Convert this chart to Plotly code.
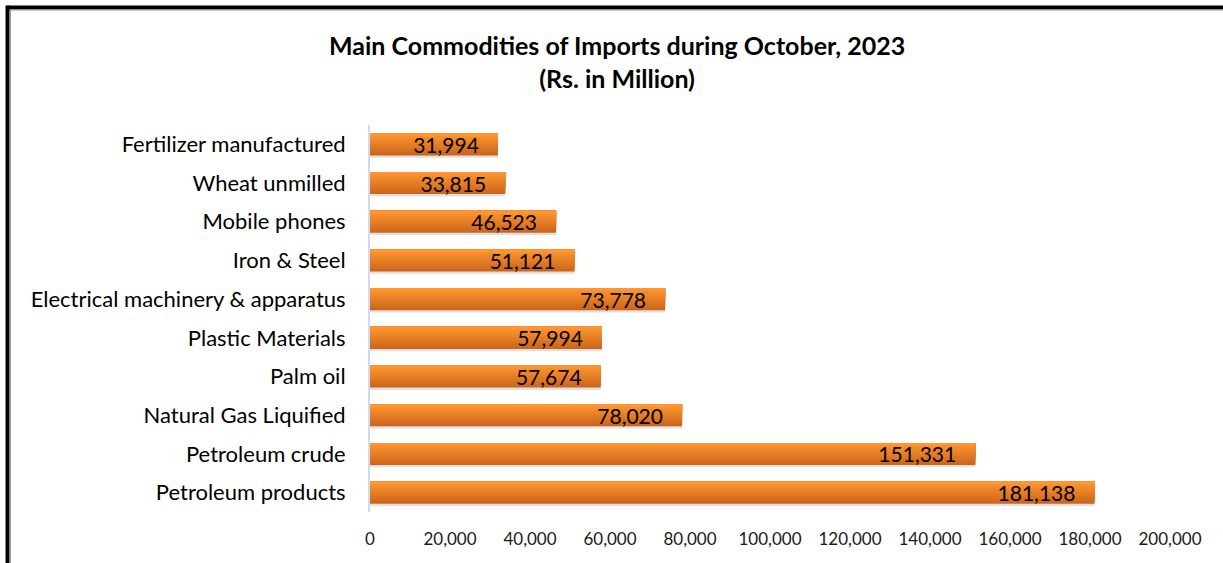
import plotly.graph_objects as go

categories = ["Petroleum products", "Petroleum crude", "Natural Gas Liquified", "Palm oil",
              "Plastic Materials", "Electrical machinery & apparatus", "Iron & Steel",
              "Mobile phones", "Wheat unmilled", "Fertilizer manufactured"]
values = [181138, 151331, 78020, 57674, 57994, 73778, 51121, 46523, 33815, 31994]
labels = [f"{v:,}" + "\u00a0\u00a0\u00a0" for v in values]
x_ticks = list(range(0, 200001, 20000))
x_ticktext = [f"{v:,}" for v in x_ticks]

FONT = "Lato, 'Open Sans', sans-serif"
BAR_W = 0.57

fig = go.Figure()

# soft shadow under bars
fig.add_trace(go.Bar(y=categories, x=values, orientation="h", width=BAR_W,
                     offset=-BAR_W / 2 - 0.06, marker=dict(color="rgba(0,0,0,0.12)", line_width=0),
                     hoverinfo="skip", showlegend=False))

# stepped vertical gradient: dark bottom -> light top
steps = 12
c_dark = (204, 102, 28)
c_light = (255, 150, 48)
for i in range(steps):
    t = i / (steps - 1)
    w = BAR_W * (1 - i / steps)
    col = tuple(int(round(c_dark[k] + (c_light[k] - c_dark[k]) * t)) for k in range(3))
    fig.add_trace(go.Bar(y=categories, x=values, orientation="h", width=w,
                         offset=BAR_W / 2 - w,
                         marker=dict(color="rgb(%d,%d,%d)" % col, line_width=0),
                         hoverinfo="skip", showlegend=False))

# labels
fig.add_trace(go.Bar(y=categories, x=values, orientation="h", width=BAR_W,
                     marker=dict(color="rgba(0,0,0,0)", line_width=0),
                     text=labels, textposition="inside", insidetextanchor="end",
                     constraintext="none",
                     textfont=dict(family=FONT, size=21, color="black"),
                     cliponaxis=False, hoverinfo="skip", showlegend=False))

fig.update_layout(
    width=1223, height=563,
    barmode="overlay",
    paper_bgcolor="white", plot_bgcolor="white",
    margin=dict(l=370, r=53, t=125, b=51),
    font=dict(family=FONT, color="black"),
    annotations=[dict(text="<b>Main Commodities of Imports during October, 2023<br>(Rs. in Million)</b>",
                      xref="paper", yref="paper", x=(617 - 370) / 800, y=(512 - 61) / 387,
                      xanchor="center", yanchor="middle", showarrow=False, align="center",
                      font=dict(family=FONT, size=25, color="black"))],
    xaxis=dict(range=[0, 200000], tickvals=x_ticks, ticktext=x_ticktext,
               showgrid=False, zeroline=False, showline=False,
               tickfont=dict(family=FONT, size=17, color="#1a1a1a"),
               ticks="", ticklabelstandoff=15, fixedrange=True),
    yaxis=dict(categoryorder="array", categoryarray=categories,
               showgrid=False, zeroline=False, showline=True, linecolor="#D0DCEE", linewidth=2,
               tickfont=dict(family=FONT, size=22, color="black"),
               ticks="", ticklabelstandoff=18, fixedrange=True),
    shapes=[
        dict(type="line", xref="paper", yref="paper",
             x0=(7.5 - 370) / 800, x1=(1230 - 370) / 800,
             y0=(512 - 7.5) / 387, y1=(512 - 7.5) / 387,
             line=dict(color="black", width=4)),
        dict(type="line", xref="paper", yref="paper",
             x0=(7.5 - 370) / 800, x1=(7.5 - 370) / 800,
             y0=(512 - 5.5) / 387, y1=(512 - 570) / 387,
             line=dict(color="black", width=4)),
        dict(type="line", xref="paper", yref="paper",
             x0=(10 - 370) / 800, x1=(1230 - 370) / 800,
             y0=(512 - 10) / 387, y1=(512 - 10) / 387,
             line=dict(color="#999999", width=1)),
        dict(type="line", xref="paper", yref="paper",
             x0=(10.5 - 370) / 800, x1=(10.5 - 370) / 800,
             y0=(512 - 10) / 387, y1=(512 - 570) / 387,
             line=dict(color="#999999", width=1)),
    ],
)

fig.write_html("out.html", config={"displayModeBar": False})
